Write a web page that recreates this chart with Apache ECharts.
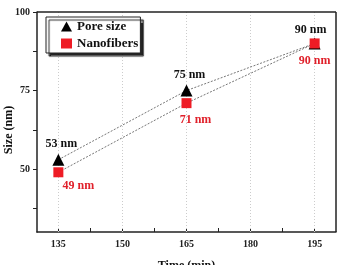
<!DOCTYPE html>
<html>
<head>
<meta charset="utf-8">
<script src="https://cdn.jsdelivr.net/npm/echarts@6/dist/echarts.min.js"></script>
<style>
  html, body { margin: 0; padding: 0; background: #fff; }
  #chart { width: 337px; height: 265px; }
</style>
</head>
<body>
<div id="chart"></div>
<script>
const times = [135, 165, 195];
const poreSize = [53, 75, 90];
const nanofibers = [49, 71, 90];
const xTicks = [135, 150, 165, 180, 195];
const yTicks = [50, 75, 100];

// label nudges, px
const poreOffsets = [[3, 0], [3, 0], [-4, 2]];
const fiberOffsets = [[20, -3], [9, 0], [0, 0]];

window.addEventListener("load", () => {
  let chart = echarts.init(document.getElementById("chart"), null, { renderer: 'canvas' });
  const font = 'Liberation Serif';

  let poreData = times.map((t, i) => ({
    value: [t, poreSize[i]],
    label: { offset: poreOffsets[i] }
  }));
  let fiberData = times.map((t, i) => ({
    value: [t, nanofibers[i]],
    label: { offset: fiberOffsets[i] }
  }));

  const dotted = { color: '#777', type: [2, 1.5], width: 1 };

  let option = {
    backgroundColor: '#fff',
    animation: false,
    grid: { left: 37, right: 1, top: 12, bottom: 33, outerBoundsMode: 'none', containLabel: false },
    legend: {
      left: 46, top: 17,
      orient: 'vertical',
      itemGap: 4,
      itemWidth: 11, itemHeight: 10,
      padding: [3, 2, 3, 15],
      backgroundColor: '#fff',
      borderColor: '#222', borderWidth: 1,
      shadowColor: 'rgba(0,0,0,0.85)', shadowOffsetX: 3, shadowOffsetY: 3, shadowBlur: 1,
      textStyle: { fontFamily: font, fontWeight: 'bold', fontSize: 13, color: '#111' },
      data: [
        { name: 'Pore size', icon: 'triangle' },
        { name: 'Nanofibers', icon: 'rect' }
      ]
    },
    xAxis: {
      type: 'value', min: 130, max: 200,
      name: 'Time (min)', nameLocation: 'middle', nameGap: 28, nameMoveOverlap: false,
      nameTextStyle: { fontFamily: font, fontWeight: 'bold', fontSize: 12, color: '#111' },
      axisLine: { lineStyle: { color: '#222', width: 1.5 } },
      axisTick: { inside: true, length: 4, customValues: [135, 142.5, 150, 157.5, 165, 172.5, 180, 187.5, 195], lineStyle: { color: '#222' } },
      axisLabel: { customValues: xTicks, fontFamily: font, fontWeight: 'bold', fontSize: 10, color: '#222', margin: 7 },
      splitLine: { show: false }
    },
    yAxis: {
      type: 'value', min: 30, max: 100,
      name: 'Size (nm)', nameLocation: 'middle', nameGap: 22, nameRotate: 90, nameMoveOverlap: false,
      nameTextStyle: { fontFamily: font, fontWeight: 'bold', fontSize: 12, color: '#111', padding: [0, 16, 0, 0] },
      axisLine: { lineStyle: { color: '#222', width: 1.5 } },
      axisTick: { length: 4, customValues: [37.5, 50, 62.5, 75, 87.5, 100], lineStyle: { color: '#222' } },
      axisLabel: { customValues: yTicks, fontFamily: font, fontWeight: 'bold', fontSize: 10, color: '#222', margin: 7 },
      splitLine: { show: false }
    },
    series: [
      {
        name: 'grid',
        type: 'line', data: [], silent: true, z: 1,
        markLine: {
          silent: true, symbol: 'none', label: { show: false }, z: 1,
          lineStyle: { color: '#ccc', type: [1, 2], width: 1 },
          data: xTicks.map(v => ({ xAxis: v }))
        }
      },
      {
        name: 'frame',
        type: 'line', data: [], silent: true,
        markLine: {
          silent: true, symbol: 'none', label: { show: false },
          lineStyle: { color: '#222', type: 'solid', width: 1.5 },
          data: [{ yAxis: 100 }, { xAxis: 200 }]
        }
      },
      // dotted connectors
      { name: 'poreLine', type: 'line', data: poreData.map(d => d.value), showSymbol: false, lineStyle: dotted, silent: true, z: 2 },
      { name: 'fiberLine', type: 'line', data: fiberData.map(d => d.value), showSymbol: false, lineStyle: dotted, silent: true, z: 2 },
      {
        name: 'Pore size',
        type: 'scatter', data: poreData,
        symbol: 'triangle', symbolSize: 12,
        itemStyle: { color: '#000', opacity: 1 },
        label: {
          show: true, position: 'top', distance: 4,
          formatter: p => p.value[1] + ' nm',
          fontFamily: font, fontWeight: 'bold', fontSize: 12, color: '#111', opacity: 1
        },
        z: 6
      },
      {
        name: 'Nanofibers',
        type: 'scatter', data: fiberData,
        symbol: 'rect', symbolSize: 10,
        itemStyle: { color: '#ee1c25', opacity: 1 },
        label: {
          show: true, position: 'bottom', distance: 6,
          formatter: p => p.value[1] + ' nm',
          fontFamily: font, fontWeight: 'bold', fontSize: 12, color: '#e0202a', opacity: 1
        },
        z: 6
      }
    ]
  };

  chart.setOption(option);
  window.addEventListener('resize', chart.resize);
});
</script>
</body>
</html>
